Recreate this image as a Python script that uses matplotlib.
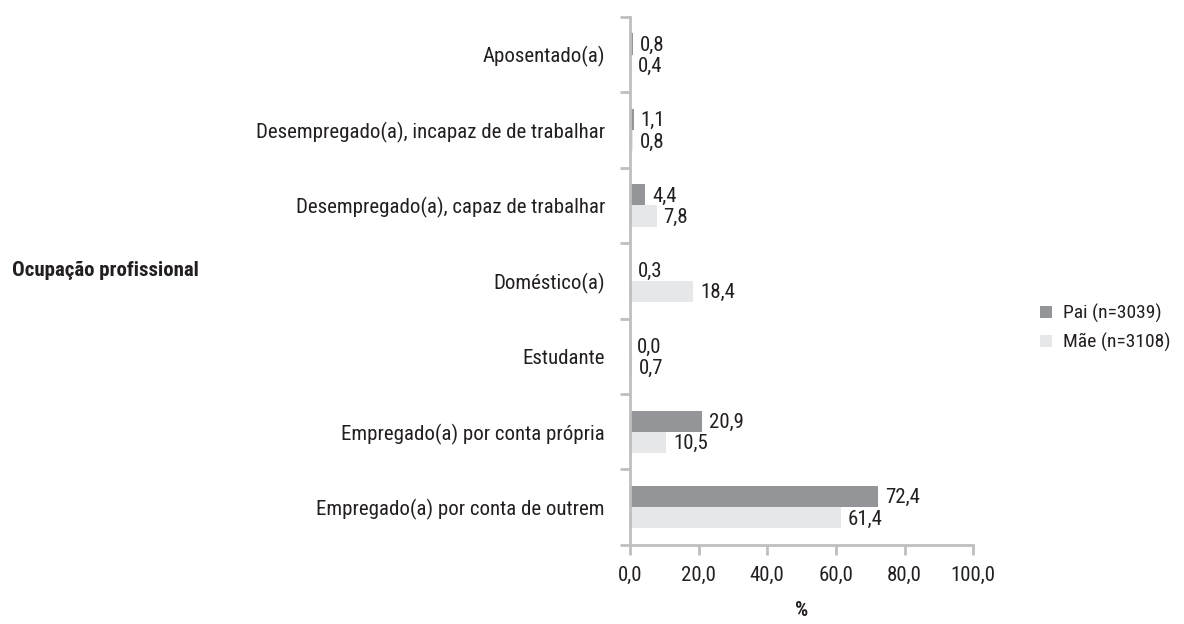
import matplotlib
matplotlib.use("Agg")
import matplotlib.pyplot as plt
import numpy as np

plt.rcParams['font.family'] = ['Liberation Sans Narrow', 'Roboto Condensed', 'DejaVu Sans']
plt.rcParams['font.stretch'] = 'condensed'

# data, bottom category first
categories = ['Empregado(a) por conta de outrem',
              'Empregado(a) por conta própria',
              'Estudante',
              'Doméstico(a)',
              'Desempregado(a), capaz de trabalhar',
              'Desempregado(a), incapaz de de trabalhar',
              'Aposentado(a)']
pai = [72.4, 20.9, 0.0, 0.3, 4.4, 1.1, 0.8]
mae = [61.4, 10.5, 0.7, 18.4, 7.8, 0.8, 0.4]
series_names = ['Pai (n=3039)', 'Mãe (n=3108)']
xticks = [0, 20, 40, 60, 80, 100]

dark = '#939598'
light = '#e6e7e8'
axis_col = '#bcbec0'
txt = '#231f20'
fs = 15

fig = plt.figure(figsize=(11.84, 6.24), dpi=100)
ax = fig.add_axes([0.532, 0.127, 0.29, 0.846])

y = np.arange(len(categories))
h = 0.28
b1 = ax.barh(y + h / 2, pai, height=h, color=dark, label=series_names[0])
b2 = ax.barh(y - h / 2, mae, height=h, color=light, label=series_names[1])

def fmt(v):
    return ('%.1f' % v).replace('.', ',')

for bars, vals in ((b1, pai), (b2, mae)):
    for r, v in zip(bars, vals):
        ax.annotate(fmt(v), (v, r.get_y() + r.get_height() / 2),
                    xytext=(5, -1), textcoords='offset points',
                    ha='left', va='center', fontsize=fs, color=txt)

ax.set_xlim(0, 100)
ax.set_ylim(-0.5, len(categories) - 0.5)
ax.set_xticks(xticks)
ax.set_xticklabels([fmt(v) for v in xticks], fontsize=fs, color=txt)
ax.set_yticks(y)
ax.set_yticklabels(categories, fontsize=fs, color=txt)
ax.tick_params(axis='y', length=0, pad=18)
ax.set_yticks(np.arange(-0.5, len(categories), 1.0), minor=True)
ax.tick_params(axis='y', which='minor', length=7, width=2, color=axis_col)
ax.tick_params(axis='x', length=7, width=2, color=axis_col, pad=8)

for s in ('top', 'right'):
    ax.spines[s].set_visible(False)
for s in ('left', 'bottom'):
    ax.spines[s].set_color(axis_col)
    ax.spines[s].set_linewidth(2)

ax.set_xlabel('%', fontsize=fs, fontweight='bold', color=txt, labelpad=12)

fig.text(0.01, 0.567, 'Ocupação profissional', fontsize=fs, fontweight='bold',
         color=txt, va='center', ha='left')

fig.legend(handles=[b1, b2], loc='center left', bbox_to_anchor=(0.864, 0.474),
           frameon=False, fontsize=14, handlelength=0.6, handleheight=0.6,
           labelspacing=0.5, handletextpad=0.55, labelcolor=txt)

fig.savefig('out.png', dpi=100)
